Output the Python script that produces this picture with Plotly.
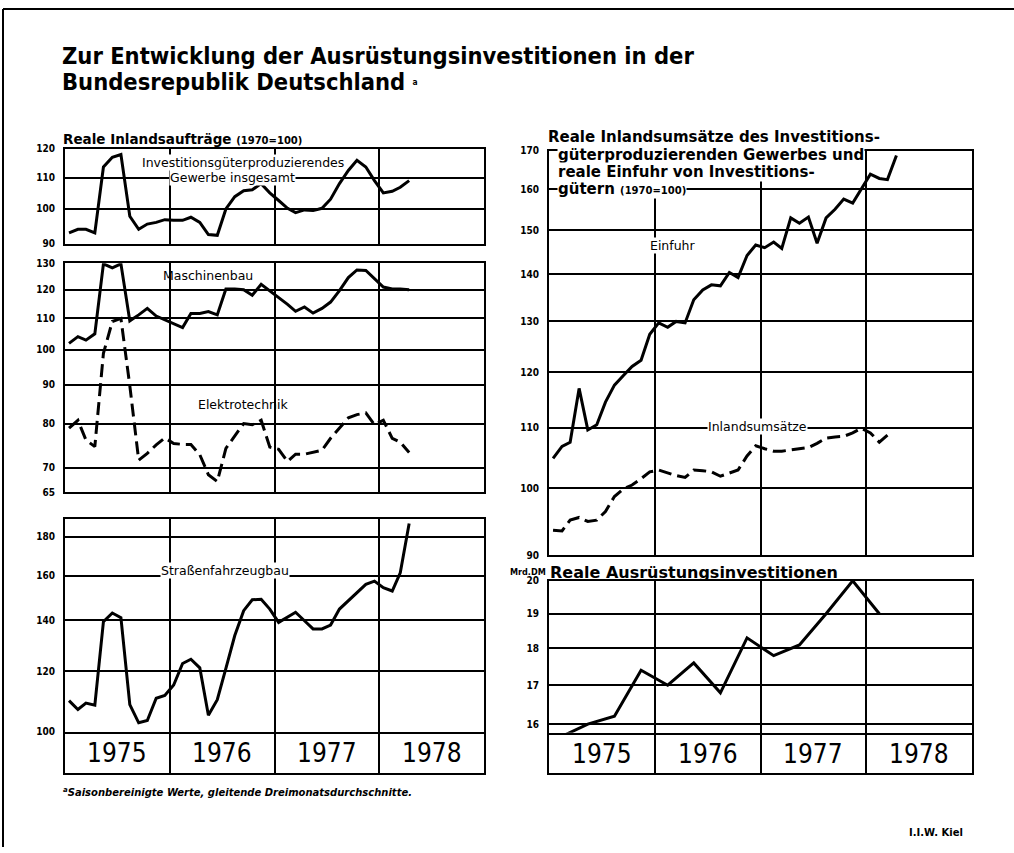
import math
import plotly.graph_objects as go

W, H = 1014, 853

# ---------------- data ----------------
years = ["1975", "1976", "1977", "1978"]
year_starts = ["1976-01-01", "1977-01-01", "1978-01-01"]
year_mid = ["1975-07-02", "1976-07-02", "1977-07-02", "1978-07-02"]
months = [f"{1975 + i // 12}-{i % 12 + 1:02d}-15" for i in range(40)]   # Jan 1975 .. Apr 1978
quarters = [f"{1975 + i // 4}-{(i % 4) * 3 + 2:02d}-15" for i in range(13)]  # Q1 1975 .. Q1 1978

insgesamt = [93, 94, 94, 93, 113.6, 117, 118, 97.8, 94, 95.5, 96, 96.8,
             96.6, 96.6, 97.5, 96, 92.5, 92.3, 100, 103.8, 105.7, 106, 108, 105,
             102.6, 100.2, 98.9, 99.7, 99.5, 100.2, 103, 108, 112.4, 115.9, 113.6, 109,
             105, 105.5, 106.8, 109]

maschinenbau = [102, 104.1, 103, 105, 129.8, 128.2, 129.8, 109.2, 111.2, 113.4, 110.8, 109.5,
                108.3, 107, 111.7, 111.7, 112.3, 111.2, 120.3, 120.3, 120, 118, 122, 119.7,
                117.4, 114.8, 112.4, 113.9, 111.8, 113.4, 115.6, 119.7, 124.5, 127.4, 127.2, 124,
                121, 120.3, 120.3, 120]

elektrotechnik = [78.9, 80.8, 76.1, 74.6, 99, 109, 110, 89.7, 71.6, 73.1, 75, 76.6,
                  75.3, 75.1, 75.1, 72.8, 68.5, 67.1, 74.2, 77.2, 80, 79.7, 80.8, 74.5,
                  74.0, 71.3, 72.9, 72.9, 73.4, 73.8, 76.5, 78.8, 81.4, 82.2, 82.6, 79.7,
                  80.8, 76.5, 75.6, 73.3]

strassenfahrzeugbau = [109.8, 106.9, 109, 108.3, 139.3, 143, 141, 108.5, 102.7, 103.4, 110.6, 111.5,
                       115.1, 122.8, 124.4, 121.2, 105.1, 110.1, 121, 133.6, 144, 148.8, 149, 144.7,
                       139, 141.2, 143.3, 139.7, 136.3, 136.3, 137.9, 144.7, 148.3, 152, 155.9, 157.4,
                       154.3, 152.8, 161.4, 187.3]

einfuhr = [104.8, 106.8, 107.5, 117, 109.6, 110.5, 114.5, 117.6, 119.4, 121.1, 122.3, 127.4,
           129.7, 128.8, 130, 129.7, 134.5, 136.6, 137.7, 137.5, 140.4, 139.3, 144.2, 146.6,
           146, 147.3, 145.8, 153, 151.7, 153.2, 147, 153, 155.1, 157.6, 156.6, 160.3,
           163.9, 162.8, 162.5, 168.8]

inlandsumsaetze = [93.6, 93.5, 95.1, 95.5, 94.9, 95.1, 96.4, 98.7, 99.9, 100.5, 101.5, 102.6,
                   102.9, 102.4, 102, 101.7, 102.9, 102.8, 102.6, 101.9, 102.4, 102.9, 105.2, 106.9,
                   106.4, 106, 106, 106.2, 106.4, 106.6, 107.3, 108.2, 108.4, 108.5, 109.1, 109.9,
                   109.1, 107.5, 108.7]

ausruestung = [15.7, 16.0, 16.2, 17.4, 17.0, 17.6, 16.8, 18.3, 17.8, 18.1, 19.0, 20.0, 19.0]

ticks_a = [90, 100, 110, 120]
ticks_b = [65, 70, 80, 90, 100, 110, 120, 130]
ticks_c = [100, 120, 140, 160, 180]
ticks_d = [90, 100, 110, 120, 130, 140, 150, 160, 170]
ticks_e = [16, 17, 18, 19, 20]

# ---------------- helpers ----------------
def px(x):
    return x / W

def py(y):
    return 1 - y / H

COND = "DejaVu Sans Condensed"
SANS = "DejaVu Sans"
TICKFONT = dict(family=COND, size=10, color="black", weight="bold")

fig = go.Figure()

def add_line(x, y, n, dash="solid"):
    fig.add_trace(go.Scatter(x=x, y=y, mode="lines", xaxis=f"x{n}", yaxis=f"y{n}",
                             line=dict(color="black", width=3, dash=dash),
                             showlegend=False, hoverinfo="skip"))

add_line(months, insgesamt, 1)
add_line(months, maschinenbau, 2)
add_line(months, elektrotechnik, 2, "13px,6px")
add_line(months, strassenfahrzeugbau, 3)
add_line(months, einfuhr, 5)
add_line(months[:len(inlandsumsaetze)], inlandsumsaetze, 5, "13px,6px")
add_line(quarters, ausruestung, 6)
# invisible traces so the year-strip axes render
for n in (4, 7):
    fig.add_trace(go.Scatter(x=[year_mid[0]], y=[0.5], mode="markers", marker=dict(opacity=0),
                             xaxis=f"x{n}", yaxis=f"y{n}", showlegend=False, hoverinfo="skip"))

def xax(x0, x1, y_anchor):
    return dict(type="date", range=["1975-01-01", "1979-01-01"], domain=[px(x0), px(x1)],
                anchor=y_anchor, tickvals=year_starts, showticklabels=False, ticks="",
                showgrid=True, gridcolor="black", gridwidth=2,
                showline=True, mirror=True, linecolor="black", linewidth=2, zeroline=False)

def yax(top, bot, lo, hi, tv, x_anchor, logt=True):
    d = dict(domain=[py(bot), py(top)], anchor=x_anchor, showline=True, mirror=True,
             linecolor="black", linewidth=2, zeroline=False, ticks="")
    if logt:
        d.update(type="log", range=[math.log10(lo), math.log10(hi)], tickvals=tv,
                 ticktext=[str(v) for v in tv], showgrid=True, gridcolor="black", gridwidth=2,
                 tickfont=TICKFONT, ticklabelstandoff=6)
    else:
        d.update(range=[0, 1], showgrid=False, showticklabels=False)
    return d

L0, L1 = 65, 484
R0, R1 = 549, 972

layout = dict(
    width=W, height=H, margin=dict(l=0, r=0, t=0, b=0),
    paper_bgcolor="white", plot_bgcolor="white", showlegend=False,
    xaxis=xax(L0, L1, "y"), yaxis=yax(145, 241, 90, 120, ticks_a, "x"),
    xaxis2=xax(L0, L1, "y2"), yaxis2=yax(261, 493, 65, 130, ticks_b, "x2"),
    xaxis3=xax(L0, L1, "y3"), yaxis3=yax(520, 736, 100, 190, ticks_c, "x3"),
    xaxis4=xax(L0, L1, "y4"), yaxis4=yax(738, 778, 0, 1, None, "x4", logt=False),
    xaxis5=xax(R0, R1, "y5"), yaxis5=yax(147, 557, 90, 170, ticks_d, "x5"),
    xaxis6=xax(R0, R1, "y6"), yaxis6=yax(583, 737, 15.79, 20, ticks_e, "x6"),
    xaxis7=xax(R0, R1, "y7"), yaxis7=yax(739, 778, 0, 1, None, "x7", logt=False),
)
fig.update_layout(**layout)

ann = []

def note(text, x, y, size, xanchor="left", bg=None, family=SANS, bold=False, italic=False):
    f = dict(family=family, size=size, color="black")
    if bold:
        f["weight"] = "bold"
    if italic:
        f["style"] = "italic"
    a = dict(text=text, x=px(x), y=py(y), xref="paper", yref="paper", showarrow=False,
             xanchor=xanchor, yanchor="middle", font=f, borderpad=0)
    if bg:
        a["bgcolor"] = bg
    ann.append(a)

note("Zur Entwicklung der Ausrüstungsinvestitionen in der", 61, 51, 23.5, bold=True, family=COND)
note("Bundesrepublik Deutschland <span style='font-size:12px'><sup>a</sup></span>", 61, 77, 23.5,
     bold=True, family=COND)
note("Reale Inlandsaufträge <span style='font-size:10px'>(1970=100)</span>", 62, 135, 13.5, bold=True)

note("Reale Inlandsumsätze des Investitions-", 547, 133, 15, bold=True, bg="white")
note("güterproduzierenden Gewerbes und", 557, 151, 15, bold=True, bg="white")
note("reale Einfuhr von Investitions-", 557, 168, 15, bold=True, bg="white")
note("gütern <span style='font-size:10px'>(1970=100)</span>", 557, 186, 15, bold=True, bg="white")

note("Investitionsgüterproduzierendes", 243, 159, 12.5, xanchor="center", bg="white")
note("Gewerbe insgesamt", 232, 174, 12.5, xanchor="center", bg="white")
note("Maschinenbau", 208, 273, 12.5, xanchor="center")
note("Elektrotechnik", 243, 404, 12.5, xanchor="center")
note("Straßenfahrzeugbau", 225, 573, 12.5, xanchor="center", bg="white")
note("Einfuhr", 673, 243, 12.5, xanchor="center", bg="white")
note("Inlandsumsätze", 757, 427, 12.5, xanchor="center", bg="white")
note("Reale Ausrüstungsinvestitionen", 549, 575, 16, bold=True)
note("Mrd.DM", 528, 574, 9, xanchor="center", bold=True, family=COND)
note("<sup>a</sup>Saisonbereinigte Werte, gleitende Dreimonatsdurchschnitte.", 62, 797, 10,
     bold=True, italic=True)
note("I.I.W. Kiel", 908, 838, 10, bold=True)

for n in (4, 7):
    for yr, xm in zip(years, year_mid):
        ann.append(dict(text=yr, x=xm, y=0.5, xref=f"x{n}", yref=f"y{n}", showarrow=False,
                        xanchor="center", yanchor="middle",
                        font=dict(family=COND, size=26, color="black")))

fig.update_layout(annotations=ann)

fig.add_shape(type="line", xref="paper", yref="paper", x0=px(3), x1=1, y0=py(3), y1=py(3),
              line=dict(color="black", width=2))
fig.add_shape(type="line", xref="paper", yref="paper", x0=px(3), x1=px(3), y0=py(3), y1=0,
              line=dict(color="black", width=2))

fig.write_html("out.html", config={"displayModeBar": False},
               post_script="document.body.style.margin='0';")
